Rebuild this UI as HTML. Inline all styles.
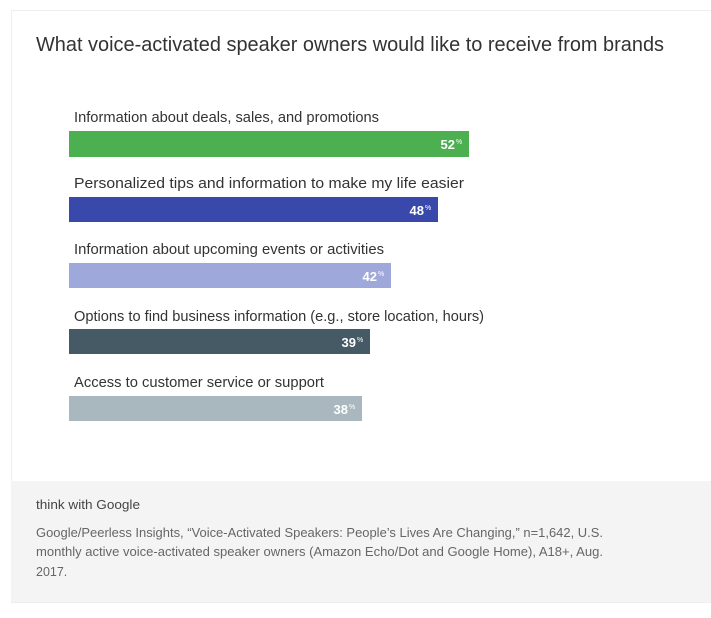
<!DOCTYPE html>
<html><head><meta charset="utf-8"><style>
body{margin:0;background:#fff;width:711px;height:618px;overflow:hidden}
svg{display:block;font-family:"Liberation Sans",sans-serif}
</style></head><body>
<svg width="711" height="618" viewBox="0 0 711 618">
<rect x="11.5" y="10.5" width="700" height="592" fill="#fff" stroke="#eeeeee"/>
<text x="36" y="51" font-size="20" fill="#333" textLength="628" lengthAdjust="spacingAndGlyphs">What voice-activated speaker owners would like to receive from brands</text>

<text x="74" y="122" font-size="14.5" fill="#333" textLength="305" lengthAdjust="spacingAndGlyphs">Information about deals, sales, and promotions</text>
<rect x="69" y="131" width="400" height="26" fill="#4caf50"/>
<text x="455" y="149" font-size="13" font-weight="bold" fill="#fff" text-anchor="end">52</text><text x="456" y="144" font-size="7" fill="#fff">%</text>

<text x="74" y="188" font-size="14.5" fill="#333" textLength="390" lengthAdjust="spacingAndGlyphs">Personalized tips and information to make my life easier</text>
<rect x="69" y="197" width="369" height="25" fill="#3949ab"/>
<text x="424" y="215" font-size="13" font-weight="bold" fill="#fff" text-anchor="end">48</text><text x="425" y="210" font-size="7" fill="#fff">%</text>

<text x="74" y="254" font-size="14.5" fill="#333" textLength="310" lengthAdjust="spacingAndGlyphs">Information about upcoming events or activities</text>
<rect x="69" y="263" width="322" height="25" fill="#9fa8da"/>
<text x="377" y="281" font-size="13" font-weight="bold" fill="#fff" text-anchor="end">42</text><text x="378" y="276" font-size="7" fill="#fff">%</text>

<text x="74" y="321" font-size="14.5" fill="#333" textLength="410" lengthAdjust="spacingAndGlyphs">Options to find business information (e.g., store location, hours)</text>
<rect x="69" y="329" width="301" height="25" fill="#455a64"/>
<text x="356" y="347" font-size="13" font-weight="bold" fill="#fff" text-anchor="end">39</text><text x="357" y="342" font-size="7" fill="#fff">%</text>

<text x="74" y="387" font-size="14.5" fill="#333" textLength="250" lengthAdjust="spacingAndGlyphs">Access to customer service or support</text>
<rect x="69" y="396" width="293" height="25" fill="#a9b7be"/>
<text x="348" y="414" font-size="13" font-weight="bold" fill="#fff" text-anchor="end">38</text><text x="349" y="409" font-size="7" fill="#fff">%</text>

<rect x="11" y="481" width="700" height="121" fill="#f4f4f4"/>
<text x="36" y="509" font-size="13" fill="#444" textLength="104" lengthAdjust="spacingAndGlyphs">think with Google</text>
<text x="36" y="537" font-size="12.5" fill="#666" textLength="567" lengthAdjust="spacingAndGlyphs">Google/Peerless Insights, “Voice-Activated Speakers: People’s Lives Are Changing,” n=1,642, U.S.</text>
<text x="36" y="556" font-size="12.5" fill="#666" textLength="567" lengthAdjust="spacingAndGlyphs">monthly active voice-activated speaker owners (Amazon Echo/Dot and Google Home), A18+, Aug.</text>
<text x="36" y="576" font-size="12.5" fill="#666">2017.</text>
</svg>
</body></html>
